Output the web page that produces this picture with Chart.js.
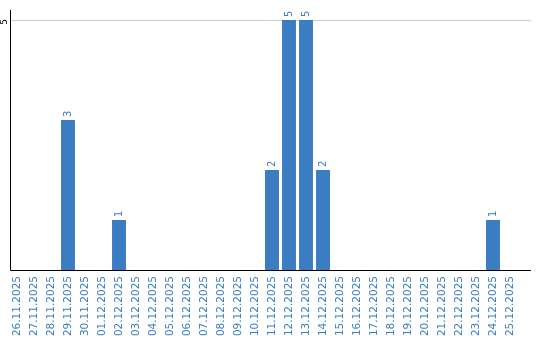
<!DOCTYPE html>
<html>
<head>
<meta charset="utf-8">
<script src="https://cdn.jsdelivr.net/npm/chart.js@4/dist/chart.umd.min.js"></script>
<style>
  html, body { margin: 0; padding: 0; background: #fff; }
  #wrap { width: 540px; height: 340px; }
</style>
</head>
<body>
<div id="wrap"><canvas id="chart"></canvas></div>
<script>
const dates = [
  '26.11.2025', '27.11.2025', '28.11.2025', '29.11.2025', '30.11.2025',
  '01.12.2025', '02.12.2025', '03.12.2025', '04.12.2025', '05.12.2025',
  '06.12.2025', '07.12.2025', '08.12.2025', '09.12.2025', '10.12.2025',
  '11.12.2025', '12.12.2025', '13.12.2025', '14.12.2025', '15.12.2025',
  '16.12.2025', '17.12.2025', '18.12.2025', '19.12.2025', '20.12.2025',
  '21.12.2025', '22.12.2025', '23.12.2025', '24.12.2025', '25.12.2025'
];
const counts = [
  0, 0, 0, 3, 0,
  0, 1, 0, 0, 0,
  0, 0, 0, 0, 0,
  2, 5, 5, 2, 0,
  0, 0, 0, 0, 0,
  0, 0, 0, 1, 0
];
const yTicks = [0, 5];

const blue = '#3b7dc3';
const font = 'DejaVu Sans';
const lineEnd = 531;
const axisX = 10.5;

// value labels, y tick text, grid line and both axis lines
const extras = {
  id: 'extras',
  beforeDatasetsDraw(chart) {
    const ctx = chart.ctx;
    const y = chart.scales.y;
    ctx.save();
    ctx.lineWidth = 1;
    ctx.strokeStyle = '#cccccc';
    yTicks.filter(v => v > 0).forEach(v => {
      const gy = Math.round(y.getPixelForValue(v)) + 0.5;
      ctx.beginPath();
      ctx.moveTo(axisX, gy);
      ctx.lineTo(lineEnd, gy);
      ctx.stroke();
    });
    ctx.restore();
  },
  afterDatasetsDraw(chart) {
    const ctx = chart.ctx;
    const area = chart.chartArea;
    const y = chart.scales.y;
    const meta = chart.getDatasetMeta(0);
    ctx.save();
    ctx.font = '10px "' + font + '"';
    ctx.fillStyle = blue;
    ctx.textAlign = 'left';
    ctx.textBaseline = 'middle';
    meta.data.forEach((bar, i) => {
      if (!counts[i]) return;
      ctx.save();
      ctx.translate(bar.x, bar.y - 3);
      ctx.rotate(-Math.PI / 2);
      ctx.fillText(String(counts[i]), 0, 0);
      ctx.restore();
    });

    ctx.strokeStyle = '#000';
    ctx.lineWidth = 1;
    const by = Math.round(y.getPixelForValue(0)) + 0.5;
    ctx.beginPath();
    ctx.moveTo(axisX, area.top);
    ctx.lineTo(axisX, by);
    ctx.lineTo(lineEnd, by);
    ctx.stroke();

    // y tick label, rotated
    ctx.fillStyle = '#000';
    ctx.font = '9px "' + font + '"';
    ctx.textAlign = 'center';
    ctx.textBaseline = 'middle';
    yTicks.filter(v => v > 0).forEach(v => {
      ctx.save();
      ctx.translate(5, y.getPixelForValue(v) + 2);
      ctx.rotate(-Math.PI / 2);
      ctx.fillText(String(v), 0, 0);
      ctx.restore();
    });
    ctx.restore();
  }
};

new Chart(document.getElementById('chart'), {
  type: 'bar',
  data: {
    labels: dates,
    datasets: [{
      data: counts,
      backgroundColor: blue,
      borderWidth: 0,
      categoryPercentage: 1,
      barPercentage: 0.82
    }]
  },
  options: {
    responsive: true,
    maintainAspectRatio: false,
    animation: false,
    layout: { padding: { left: 8.5, right: 21.5, top: 10, bottom: 4 } },
    plugins: {
      legend: { display: false },
      tooltip: { enabled: false }
    },
    scales: {
      x: {
        afterFit(scale) { scale.height = 66; },
        grid: { display: false, drawTicks: false },
        border: { display: false },
        ticks: {
          color: blue,
          font: { family: font, size: 10.5 },
          minRotation: 90,
          maxRotation: 90,
          autoSkip: false,
          padding: 6
        }
      },
      y: {
        min: 0,
        max: 5.2,
        afterBuildTicks(scale) {
          scale.ticks = yTicks.map(v => ({ value: v }));
        },
        grid: { display: false, drawTicks: false },
        border: { display: false },
        ticks: { display: false }
      }
    }
  },
  plugins: [extras]
});
</script>
</body>
</html>
